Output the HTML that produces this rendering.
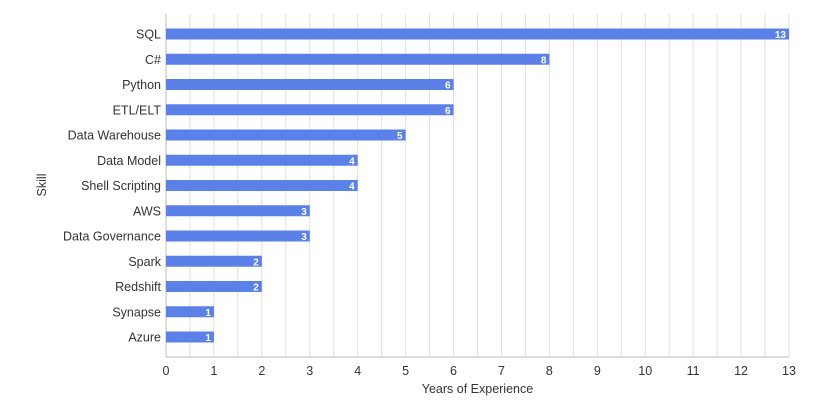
<!DOCTYPE html>
<html><head><meta charset="utf-8"><style>
body{margin:0;background:#fff;}
svg{display:block;font-family:"Liberation Sans",sans-serif;}
</style></head><body>
<svg id="chart" width="828" height="409" viewBox="0 0 828 409"></svg>
<script>
const categories=["SQL","C#","Python","ETL/ELT","Data Warehouse","Data Model","Shell Scripting","AWS","Data Governance","Spark","Redshift","Synapse","Azure"];
const values=[13,8,6,6,5,4,4,3,3,2,2,1,1];
const tickLabels=[0,1,2,3,4,5,6,7,8,9,10,11,12,13];
const svgEl=document.getElementById('chart');
const NS='http://www.w3.org/2000/svg';
const x0=166,x1=789,yTop=14,yBottom=357,maxV=13;
const xs=v=>x0+(v/maxV)*(x1-x0);
const y0=34,step=25.25,bh=11;
const ys=i=>y0+i*step;
function mk(t,a,p){const e=document.createElementNS(NS,t);for(const k in a)e.setAttribute(k,a[k]);(p||svgEl).appendChild(e);return e;}
const grid=mk('g',{});


for(let v=0.5;v<=maxV;v+=0.5){mk('line',{x1:xs(v),x2:xs(v),y1:yTop,y2:yBottom,stroke:'#e0e0e0','stroke-width':1},grid);}
const ax=mk('line',{x1:x0,x2:x0,y1:yTop,y2:yBottom,stroke:'#bdbdbd','stroke-width':1});


const bx=mk('line',{x1:x0,x2:x1,y1:yBottom,y2:yBottom,stroke:'#bdbdbd','stroke-width':1});


categories.forEach((c,i)=>{
  const y=ys(i);
  const r=mk('rect',{x:x0,y:y-bh/2,width:xs(values[i])-x0,height:bh,fill:'#5b80e8'});
  
  
  const t=mk('text',{x:xs(values[i])-3,y:y+4,'text-anchor':'end','font-size':10,'font-weight':'bold',fill:'#fff'});
  t.textContent=values[i];
  
  
  const l=mk('text',{x:x0-5,y:y+4.5,'text-anchor':'end','font-size':12.5,fill:'#333'});
  l.textContent=c;
  
  
});
tickLabels.forEach(v=>{
  const t=mk('text',{x:xs(v),y:375,'text-anchor':'middle','font-size':12.5,fill:'#333'});
  t.textContent=v;
  
  
});
const xt=mk('text',{x:(x0+x1)/2,y:393,'text-anchor':'middle','font-size':12.5,fill:'#333'});
xt.textContent='Years of Experience';


const yt=mk('text',{x:0,y:0,'text-anchor':'middle','font-size':12.5,fill:'#333',transform:'translate(46,185) rotate(-90)'});
yt.textContent='Skill';


</script>
</body></html>
